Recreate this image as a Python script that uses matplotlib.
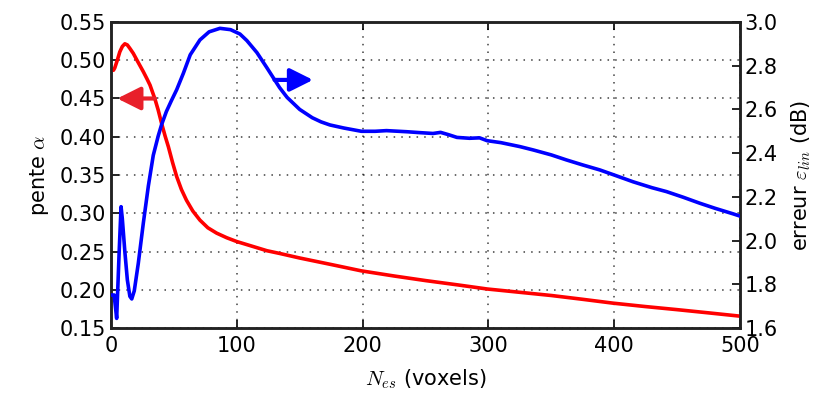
import matplotlib
matplotlib.use("Agg")
import matplotlib.pyplot as plt

plt.rcParams['mathtext.fontset'] = 'cm'
plt.rcParams['font.family'] = ['DejaVu Sans']

# red curve: pente alpha (left axis)
red_x = [1, 2, 3, 5, 7, 9, 11, 13, 15, 17.7, 21, 25.7, 28.5, 31, 35, 37.5, 40.2, 43, 45.6,
         49, 52.2, 56, 60, 65, 70.7, 77, 84, 92, 100, 112, 124, 134, 150, 175, 199, 225,
         250, 275, 299, 317, 350, 375, 399, 425, 450, 475, 500]
red_y = [0.487, 0.487, 0.490, 0.500, 0.511, 0.518, 0.5215, 0.520, 0.5155, 0.509, 0.499,
         0.485, 0.476, 0.4676, 0.449, 0.435, 0.4176, 0.401, 0.387, 0.366, 0.348, 0.331,
         0.317, 0.303, 0.291, 0.281, 0.274, 0.268, 0.263, 0.257, 0.251, 0.2475, 0.2415,
         0.233, 0.2247, 0.218, 0.212, 0.2065, 0.201, 0.198, 0.1925, 0.1875, 0.1825, 0.178,
         0.174, 0.1698, 0.1655]

# blue curve: erreur eps_lin (right axis)
blue_x = [1, 2.5, 4.5, 6.5, 8, 9, 11, 13, 15, 16.5, 18.5, 21.7, 25.7, 29.7, 33.6, 37.6,
          40.2, 44, 48, 52.2, 57.5, 63, 70.7, 78, 86.6, 95, 102.5, 108, 116, 124, 129,
          134, 140, 150, 160, 167, 174, 185, 199, 210, 219, 235, 245, 256, 262, 268, 275,
          285, 293, 299, 310, 325, 335.7, 350, 362, 375, 388.7, 400, 415, 430, 441.6, 455,
          468, 480, 494.7, 500]
blue_y = [1.751, 1.751, 1.644, 1.95, 2.155, 2.10, 1.95, 1.82, 1.745, 1.733, 1.77, 1.896,
          2.08, 2.25, 2.39, 2.48, 2.53, 2.59, 2.64, 2.69, 2.765, 2.85, 2.918, 2.955, 2.971,
          2.965, 2.945, 2.915, 2.86, 2.79, 2.745, 2.70, 2.655, 2.60, 2.562, 2.543, 2.529,
          2.515, 2.500, 2.500, 2.503, 2.498, 2.494, 2.490, 2.495, 2.485, 2.472, 2.468,
          2.470, 2.457, 2.448, 2.430, 2.4145, 2.392, 2.369, 2.346, 2.323, 2.300, 2.269,
          2.242, 2.224, 2.198, 2.171, 2.148, 2.122, 2.112]

left_ticks = [0.15, 0.20, 0.25, 0.30, 0.35, 0.40, 0.45, 0.50, 0.55]
right_ticks = [1.6, 1.8, 2.0, 2.2, 2.4, 2.6, 2.8, 3.0]
x_ticks = [0, 100, 200, 300, 400, 500]

fig = plt.figure(figsize=(8.21, 4.05), dpi=100)
ax = fig.add_axes([0.1352, 0.1901, 0.9013 - 0.1352, 0.9457 - 0.1901])
ax2 = ax.twinx()

ax.plot(red_x, red_y, color='#ff0000', lw=2.6, zorder=3, solid_joinstyle='round')
ax2.plot(blue_x, blue_y, color='#0000ff', lw=2.6, zorder=3, solid_joinstyle='round')

ax.set_xlim(0, 500)
ax.set_ylim(0.15, 0.55)
ax2.set_ylim(1.6, 3.0)
ax.set_xticks(x_ticks)
ax.set_yticks(left_ticks)
ax.set_yticklabels([f"{v:.2f}" for v in left_ticks])
ax2.set_yticks(right_ticks)
ax2.set_yticklabels([f"{v:.1f}" for v in right_ticks])

ax.grid(True, linestyle=(0, (1, 4)), color='k', lw=1.1, alpha=0.75)
ax.set_axisbelow(True)

for a in (ax, ax2):
    for s in a.spines.values():
        s.set_linewidth(1.8)
        s.set_color('#222222')
ax.tick_params(axis='both', direction='in', length=6, width=1.2, labelsize=15, top=True)
ax.tick_params(axis='x', pad=6)
ax2.tick_params(axis='y', direction='in', length=6, width=1.2, labelsize=15)

ax.set_ylabel(r'pente $\alpha$', fontsize=15, labelpad=6)
ax2.set_ylabel(r'erreur $\varepsilon_{lin}$ (dB)', fontsize=15, labelpad=8)
ax.set_xlabel(r'$N_{es}$ (voxels)', fontsize=15, labelpad=8)

ax.annotate('', xy=(5, 0.45), xytext=(35, 0.45),
            arrowprops=dict(arrowstyle='-|>,head_length=14,head_width=7', mutation_scale=1,
                            color='#e8202a', lw=3, shrinkA=0, shrinkB=0), zorder=4)
ax2.annotate('', xy=(160.6, 2.735), xytext=(130, 2.735),
             arrowprops=dict(arrowstyle='-|>,head_length=14,head_width=7', mutation_scale=1,
                             color='#0000ff', lw=3, shrinkA=0, shrinkB=0), zorder=4)

fig.savefig('out.png', dpi=100)
